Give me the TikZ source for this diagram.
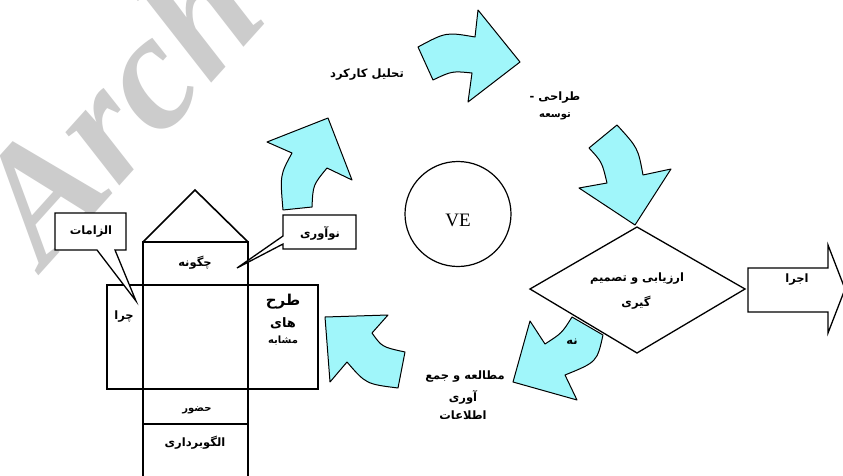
\documentclass[tikz,border=0pt]{standalone}
\usepackage{fontspec}
\usetikzlibrary{shapes.geometric}
\setmainfont{Liberation Serif}
\newfontfamily\fafont[Script=Arabic]{DejaVu Sans}
\TeXXeTstate=1
\definecolor{arrcyan}{RGB}{160,246,250}
\definecolor{wmgray}{RGB}{204,204,204}
\newcommand\rtl[1]{\beginR #1\endR}
\begin{document}
\begin{tikzpicture}[x=1pt,y=-1pt,
  arrowshape/.style={draw=black,fill=arrcyan,line width=1pt,line join=round},
  cubeline/.style={draw=black,line width=1.6pt},
  outline/.style={draw=black,line width=1.3pt,line join=miter},
  lbl/.style={inner sep=0pt,font=\fafont\bfseries\fontsize{11.5}{12}\selectfont},
  lblsmall/.style={lbl,font=\fafont\bfseries\fontsize{10}{11}\selectfont}]
\useasboundingbox (0,0) rectangle (843,476);
\fill[white] (0,0) rectangle (843,476);
\clip (0,0) rectangle (843,476);

% watermark
\node[text=wmgray,anchor=base west,rotate=48,inner sep=0pt,
  font=\bfseries\itshape\fontsize{165}{165}\selectfont] (wm) at (44,270) {Arch};

% cube net
\draw[cubeline] (143,242) -- (195,190) -- (248,242);
\draw[cubeline] (143,242) rectangle (248,490);
\draw[cubeline] (107,285) rectangle (318,389);
\draw[cubeline] (143,424) -- (248,424);

\node[lbl] (chegoone) at (195,263) {\rtl{چگونه}};
\node[lbl] (chera) at (124,317) {\rtl{چرا}};
\node[lbl,font=\fafont\bfseries\fontsize{15}{16}\selectfont] (tarh) at (283,302) {\rtl{طرح}};
\node[lbl,font=\fafont\bfseries\fontsize{13}{14}\selectfont] (hay) at (283,323) {\rtl{های}};
\node[lblsmall] (moshabeh) at (283,341) {\rtl{مشابه}};
\node[lblsmall] (hozoor) at (197,410) {\rtl{حضور}};
\node[lbl] (olgoo) at (195,443) {\rtl{الگوبرداری}};

% callouts
\draw[outline,fill=white] (55,213) -- (126,213) -- (126,250) -- (115,250) -- (136,301) -- (97,250) -- (55,250) -- cycle;
\node[lbl] (elzamat) at (91,232) {\rtl{الزامات}};
\draw[outline,fill=white] (283,215) -- (356,215) -- (356,249) -- (283,249) -- (283,244) -- (237,268) -- (283,236) -- cycle;
\node[lbl] (noavari) at (320,233) {\rtl{نوآوری}};

% circle
\node[draw=black,line width=1.2pt,ellipse,minimum width=106pt,minimum height=105pt,inner sep=0pt] (ve) at (458,214) {};
\node[inner sep=0pt,font=\fontsize{19}{19}\selectfont] (velbl) at (458,220) {VE};

% curved cyan arrows
\draw[arrowshape] (418,47) -- (433,80) .. controls (452,71) .. (472,73) -- (468,102) -- (520,62) -- (478,10) -- (475,37) .. controls (446,32) .. (418,47) -- cycle;
\draw[arrowshape] (283,210) -- (312,207) .. controls (313,185) .. (327,168) -- (352,180) -- (328,118) -- (267,142) -- (292,153) .. controls (280,175) .. (283,210) -- cycle;
\draw[arrowshape] (617,125) -- (589,148) .. controls (602,162) .. (607,183) -- (579,188) -- (635,225) -- (671,169) -- (643,175) .. controls (638,148) .. (617,125) -- cycle;
\draw[arrowshape] (572,317) -- (603,335) .. controls (597,362) .. (565,375) -- (577,400) -- (513,382) -- (530,321) -- (545,344) .. controls (562,333) .. (572,317) -- cycle;
\draw[arrowshape] (325,317) -- (388,315) -- (372,333) .. controls (382,347) .. (405,352) -- (398,388) .. controls (366,384) .. (347,362) -- (330,382) -- cycle;

% labels near arrows
\node[lbl] (tahlil) at (367,75) {\rtl{تحلیل کارکرد}};
\node[lbl] (tarahi) at (555,98) {\rtl{طراحی -}};
\node[lblsmall] (tosee) at (555,116) {\rtl{توسعه}};
\node[lbl] (na) at (572,342) {\rtl{نه}};
\node[lbl] (motalee) at (465,377) {\rtl{مطالعه و جمع}};
\node[lbl] (avari) at (463,397) {\rtl{آوری}};
\node[lbl] (etelaat) at (463,415) {\rtl{اطلاعات}};

% diamond
\draw[outline] (637,227) -- (745,289) -- (637,353) -- (530,289) -- cycle;
\node[lbl] (arzyabi) at (637,279) {\rtl{ارزیابی و تصمیم}};
\node[lbl] (giri) at (636,303) {\rtl{گیری}};

% block arrow
\draw[outline] (748,268) -- (828,268) -- (828,245) -- (845,289) -- (828,333) -- (828,312) -- (748,312) -- cycle;
\node[lbl] (ejra) at (797,280) {\rtl{اجرا}};
\end{tikzpicture}
\end{document}
